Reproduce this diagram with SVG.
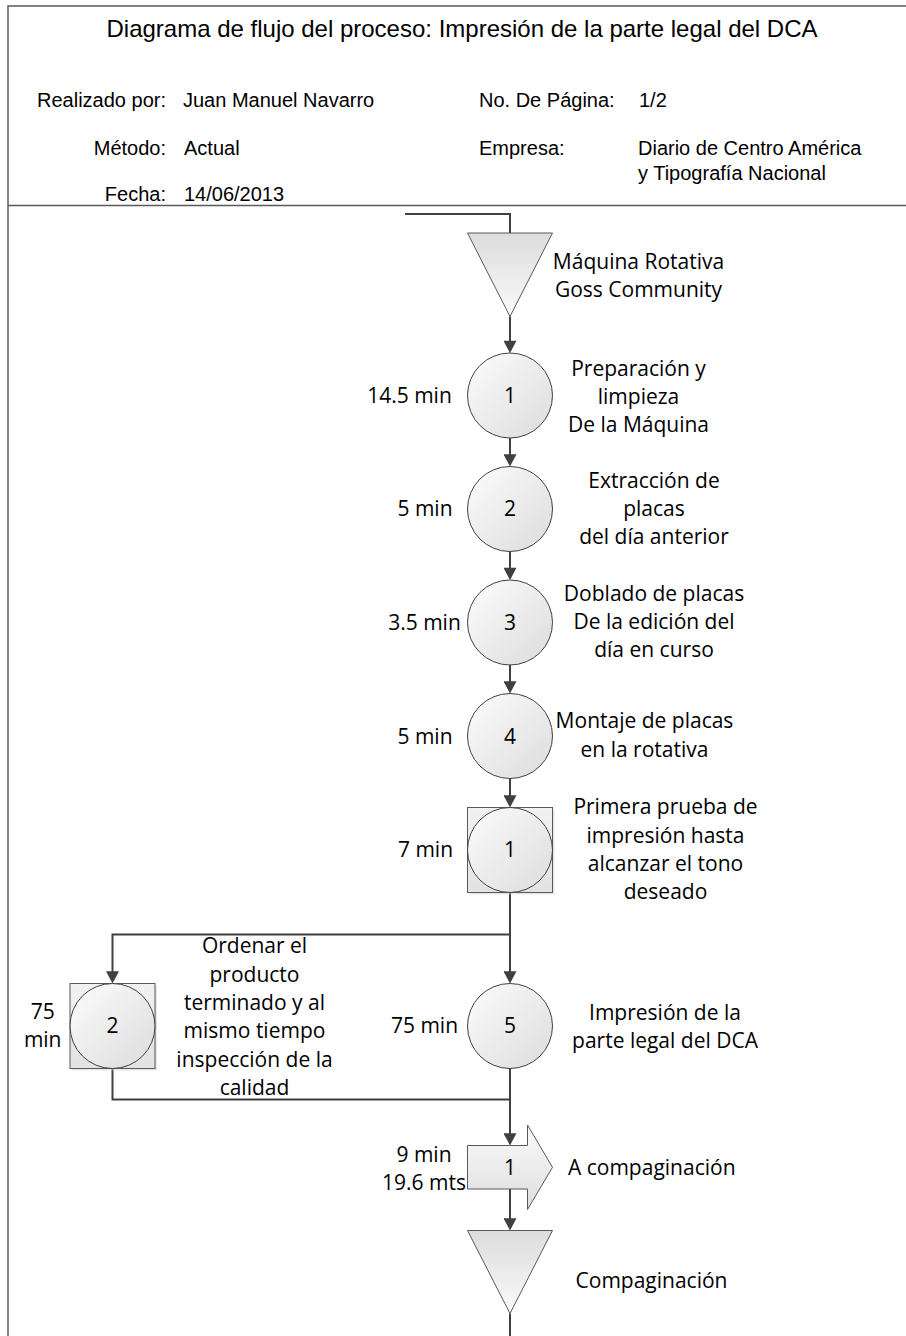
<svg xmlns="http://www.w3.org/2000/svg" width="906" height="1336" viewBox="0 0 906 1336">
<style>
.hd{font-family:"Liberation Sans",Arial,sans-serif;font-size:20px;fill:#000}
.ttl{font-family:"Liberation Sans",Arial,sans-serif;font-size:24px;fill:#000}
.t{font-family:"Open Sans","Noto Sans",sans-serif;font-size:21px;fill:#000}
.c{text-anchor:middle}
.e{text-anchor:end}
.frame{stroke:#5a5a5a;stroke-width:1.5;fill:none}
.conn{stroke:#404040;stroke-width:2;fill:none}
.arr{marker-end:url(#ah)}
.circ{fill:url(#gc);stroke:#404040;stroke-width:1}
.sq{fill:url(#gs);stroke:#595959;stroke-width:1}
.tri{fill:url(#gt);stroke:#595959;stroke-width:1}
</style>
<defs>
<linearGradient id="gc" x1="0" y1="0" x2="1" y2="1">
<stop offset="0" stop-color="#fcfcfc"/><stop offset="1" stop-color="#dcdcdc"/>
</linearGradient>
<linearGradient id="gs" x1="0" y1="0" x2="0" y2="1">
<stop offset="0" stop-color="#f2f2f2"/><stop offset="1" stop-color="#e2e2e2"/>
</linearGradient>
<linearGradient id="gt" x1="0" y1="0" x2="0" y2="1">
<stop offset="0" stop-color="#dcdcdc"/><stop offset="1" stop-color="#fafafa"/>
</linearGradient>
<linearGradient id="ga" x1="0" y1="0" x2="0" y2="1">
<stop offset="0" stop-color="#fafafa"/><stop offset="1" stop-color="#dedede"/>
</linearGradient>
<marker id="ah" markerUnits="userSpaceOnUse" markerWidth="13" markerHeight="13" viewBox="0 0 12 12.6" refX="9" refY="6.3" orient="auto">
<path d="M0,0 L12,6.3 L0,12.6 Z" fill="#404040"/>
</marker>
</defs>
<rect x="0" y="0" width="906" height="1336" fill="#fff"/>

<g id="header">
<path class="frame" d="M906,6 H8 V1336"/>
<path class="frame" d="M8,205.5 H906"/>
<text class="ttl c" x="462" y="37">Diagrama de flujo del proceso: Impresión de la parte legal del DCA</text>
<text class="hd e" x="166" y="107">Realizado por:</text>
<text class="hd" x="183" y="107">Juan Manuel Navarro</text>
<text class="hd" x="479" y="107">No. De Página:</text>
<text class="hd" x="639" y="107">1/2</text>
<text class="hd e" x="166" y="155">Método:</text>
<text class="hd" x="184" y="155">Actual</text>
<text class="hd" x="479" y="155">Empresa:</text>
<text class="hd" x="638" y="155">Diario de Centro América</text>
<text class="hd" x="638" y="180">y Tipografía Nacional</text>
<text class="hd e" x="166" y="201">Fecha:</text>
<text class="hd" x="184" y="201">14/06/2013</text>
</g>

<g id="connectors">
<path class="conn" d="M405,214 H510 V233"/>
<path class="conn arr" d="M510,316.5 V350"/>
<path class="conn arr" d="M510,438 V463.5"/>
<path class="conn arr" d="M510,551.5 V577"/>
<path class="conn arr" d="M510,665 V690.5"/>
<path class="conn arr" d="M510,778.5 V804.5"/>
<path class="conn arr" d="M510,892.5 V980.5"/>
<path class="conn arr" d="M510,934.5 H112.5 V980.5"/>
<path class="conn arr" d="M510,1068.5 V1142.5"/>
<path class="conn" d="M112.5,1068.5 V1099.5 H510"/>
<path class="conn arr" d="M510,1189 V1227.5"/>
<path class="conn" d="M510,1313.5 V1336"/>
</g>

<g id="store1">
<path class="tri" d="M467.5,233 H552.5 L510,316.5 Z"/>
<text class="t c" x="638.5" y="269">Máquina Rotativa</text>
<text class="t c" x="638.5" y="297">Goss Community</text>
</g>

<g id="op1">
<circle class="circ" cx="510" cy="395.5" r="42.5"/>
<text class="t c" x="510" y="403">1</text>
<text class="t c" x="409.5" y="403">14.5 min</text>
<text class="t c" x="638.5" y="376">Preparación y</text>
<text class="t c" x="638.5" y="404">limpieza</text>
<text class="t c" x="638.5" y="432">De la Máquina</text>
</g>

<g id="op2">
<circle class="circ" cx="510" cy="509" r="42.5"/>
<text class="t c" x="510" y="516">2</text>
<text class="t c" x="425" y="516">5 min</text>
<text class="t c" x="654" y="488">Extracción de</text>
<text class="t c" x="654" y="516">placas</text>
<text class="t c" x="654" y="544">del día anterior</text>
</g>

<g id="op3">
<circle class="circ" cx="510" cy="622.5" r="42.5"/>
<text class="t c" x="510" y="629.5">3</text>
<text class="t c" x="424.5" y="629.5">3.5 min</text>
<text class="t c" x="654" y="601">Doblado de placas</text>
<text class="t c" x="654" y="629">De la edición del</text>
<text class="t c" x="654" y="657">día en curso</text>
</g>

<g id="op4">
<circle class="circ" cx="510" cy="736" r="42.5"/>
<text class="t c" x="510" y="743.5">4</text>
<text class="t c" x="425" y="743.5">5 min</text>
<text class="t c" x="644.5" y="728">Montaje de placas</text>
<text class="t c" x="644.5" y="756.5">en la rotativa</text>
</g>

<g id="combined1">
<rect x="469.5" y="809.5" width="85" height="85" fill="#d0d0d0" opacity="0.5"/>
<rect class="sq" x="467.5" y="807.5" width="85" height="85"/>
<circle class="circ" cx="510" cy="850" r="42.5"/>
<text class="t c" x="510" y="857">1</text>
<text class="t c" x="425.5" y="857">7 min</text>
<text class="t c" x="665.5" y="814">Primera prueba de</text>
<text class="t c" x="665.5" y="842.5">impresión hasta</text>
<text class="t c" x="665.5" y="871">alcanzar el tono</text>
<text class="t c" x="665.5" y="899">deseado</text>
</g>

<g id="op5">
<circle class="circ" cx="510" cy="1026" r="42.5"/>
<text class="t c" x="510" y="1033">5</text>
<text class="t c" x="424.5" y="1033">75 min</text>
<text class="t c" x="665" y="1019.5">Impresión de la</text>
<text class="t c" x="665" y="1047.5">parte legal del DCA</text>
</g>

<g id="combined2">
<rect x="72" y="985.5" width="85" height="85" fill="#d0d0d0" opacity="0.5"/>
<rect class="sq" x="70" y="983.5" width="85" height="85"/>
<circle class="circ" cx="112.5" cy="1026" r="42.5"/>
<text class="t c" x="112.5" y="1033">2</text>
<text class="t c" x="42.7" y="1019">75</text>
<text class="t c" x="42.7" y="1047">min</text>
<text class="t c" x="254.5" y="953">Ordenar el</text>
<text class="t c" x="254.5" y="981.5">producto</text>
<text class="t c" x="254.5" y="1010">terminado y al</text>
<text class="t c" x="254.5" y="1038">mismo tiempo</text>
<text class="t c" x="254.5" y="1066.5">inspección de la</text>
<text class="t c" x="254.5" y="1095">calidad</text>
</g>

<g id="transport1">
<path d="M467.5,1145.5 H527.5 V1125 L552.5,1167.3 L527.5,1209.5 V1189 H467.5 Z" fill="url(#ga)" stroke="#595959" stroke-width="1"/>
<text class="t c" x="510" y="1175">1</text>
<text class="t c" x="424" y="1161.5">9 min</text>
<text class="t c" x="424" y="1190">19.6 mts</text>
<text class="t" x="568" y="1175">A compaginación</text>
</g>

<g id="store2">
<path class="tri" d="M467.5,1230.5 H552.5 L510,1313.5 Z"/>
<text class="t c" x="651.5" y="1288">Compaginación</text>
</g>
</svg>
